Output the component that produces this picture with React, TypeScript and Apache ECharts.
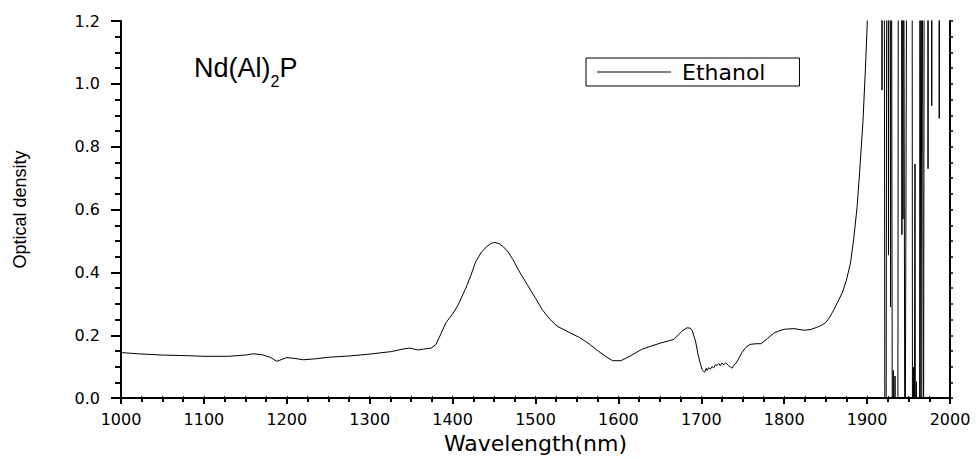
import React, { useEffect, useRef } from "react";
import * as echarts from "echarts";

// Main spectrum (wavelength in nm, optical density)
const baseWl = [
  1000, 1020, 1050, 1080, 1100, 1130, 1150, 1160, 1170, 1180, 1188, 1193, 1200, 1210, 1220, 1235, 1250, 1275,
  1300, 1326, 1340, 1348, 1352, 1358, 1365, 1374, 1380, 1386, 1392, 1400, 1406, 1416, 1422, 1428, 1435, 1441,
  1447, 1451, 1456, 1461, 1467, 1473, 1480, 1490, 1500, 1508, 1517, 1526, 1540, 1553, 1565, 1575, 1585, 1593,
  1603, 1615, 1628, 1640, 1652, 1667, 1673, 1678, 1683, 1687, 1689, 1693, 1696, 1699, 1701, 1703, 1704, 1706,
  1707, 1709, 1711, 1713, 1715, 1717, 1719, 1721, 1723, 1725, 1727, 1729, 1731, 1733, 1735, 1737, 1739, 1743,
  1749, 1754, 1759, 1766, 1772, 1780, 1788, 1795, 1800, 1812, 1824, 1832, 1840, 1845, 1850, 1855, 1860, 1865,
  1870, 1875, 1880, 1884, 1888, 1891, 1895, 1898, 1900, 1902, 1905, 1910,
];
const baseOd = [
  0.145, 0.141, 0.137, 0.135, 0.133, 0.133, 0.137, 0.141, 0.138, 0.13, 0.117, 0.122, 0.129, 0.126, 0.122, 0.125, 0.13, 0.134,
  0.14, 0.148, 0.156, 0.159, 0.157, 0.153, 0.156, 0.159, 0.171, 0.205, 0.24, 0.268, 0.293, 0.35, 0.39, 0.435, 0.465, 0.482,
  0.493, 0.495, 0.492, 0.482, 0.465, 0.44, 0.405, 0.361, 0.318, 0.282, 0.252, 0.229, 0.21, 0.193, 0.172, 0.151, 0.132, 0.119,
  0.119, 0.135, 0.155, 0.166, 0.176, 0.187, 0.203, 0.216, 0.224, 0.222, 0.215, 0.182, 0.14, 0.108, 0.09, 0.085, 0.082, 0.095,
  0.088, 0.097, 0.092, 0.1, 0.096, 0.106, 0.104, 0.11, 0.103, 0.112, 0.106, 0.112, 0.108, 0.103, 0.1, 0.095, 0.103, 0.115,
  0.145, 0.162, 0.171, 0.173, 0.173, 0.19, 0.208, 0.215, 0.219, 0.221, 0.216, 0.218, 0.226, 0.232, 0.24, 0.258, 0.282, 0.308,
  0.335, 0.375, 0.43, 0.51, 0.61, 0.72, 0.88, 1.05, 1.18, 1.35, 1.7, 2.2,
];

// Saturated, noisy region beyond the water band
const noiseWl = [
  1917.4, 1918.0, 1918.6, 1920.4, 1921.6, 1922.8, 1924.0, 1925.2, 1925.8, 1926.4, 1927.6, 1928.3, 1929.1, 1929.7,
  1930.6, 1931.6, 1932.4, 1933.7, 1934.3, 1937.0, 1937.9, 1941.5, 1942.0, 1942.5, 1943.3, 1943.8, 1945.7, 1948.5,
  1954.2, 1954.8, 1956.0, 1956.6, 1957.8, 1958.4, 1959.6, 1960.2, 1963.2, 1963.8, 1965.0, 1966.2, 1968.0, 1969.2,
  1972.9, 1973.5, 1974.1, 1977.7, 1978.0, 1978.4, 1986.5, 1987.0, 1987.5, 2000,
];
const noiseOd = [
  2.2, 0.98, 2.2, 2.2, -0.5, -0.5, 2.2, 2.2, 0.455, 2.2, 2.2, 0.29, 2.2, 2.2,
  -0.5, 0.088, -0.5, 0.07, -0.5, -0.5, 2.2, 2.2, 0.52, 2.2, 0.57, 2.2, -0.5, 2.2,
  2.2, -0.5, 0.098, -0.5, 0.745, -0.5, 0.052, -0.5, -0.5, 2.2, -0.5, 2.2, -0.5, 2.2,
  2.2, 0.73, 2.2, 2.2, 0.93, 2.2, 2.2, 0.89, 2.2, 2.2,
];

const seriesName = "Ethanol";
const xTitle = "Wavelength(nm)";
const yTitle = "Optical density";

export default function App() {
  const ref = useRef<HTMLDivElement>(null);
  useEffect(() => {
    if (!ref.current) return;
    const chart = echarts.init(ref.current, undefined, { renderer: "svg" });
    const data: [number, number][] = [];
    baseWl.forEach((w, i) => data.push([w, baseOd[i]]));
    noiseWl.forEach((w, i) => data.push([w, noiseOd[i]]));

    const font = "DejaVu Sans";
    const axisLine = { show: true, lineStyle: { color: "#000", width: 2 } };

    chart.setOption({
      animation: false,
      backgroundColor: "#fff",
      title: {
        text: "{a|Nd(Al)}{b|2}{a|P}",
        left: 189,
        top: 42,
        textStyle: {
          rich: {
            a: { fontFamily: "Liberation Sans", fontWeight: "normal", fontSize: 27, color: "#000", lineHeight: 42 },
            b: { fontFamily: "Liberation Sans", fontWeight: "normal", fontSize: 16, color: "#000", lineHeight: 42, verticalAlign: "bottom" },
          },
        },
      },
      legend: {
        left: 586,
        top: 58,
        orient: "horizontal",
        borderColor: "#000",
        borderWidth: 1,
        borderRadius: 0,
        padding: [3, 34, 3, 11],
        itemWidth: 74,
        itemHeight: 18,
        data: [{ name: seriesName, icon: "path://M0,0 L74,0 L74,0.8 L0,0.8 Z" }],
        itemStyle: { color: "#000" },
        textStyle: { fontFamily: font, fontSize: 22, lineHeight: 20, color: "#000", padding: [0, 0, 0, 6] },
      },
      grid: { left: 121, right: 26, top: 21, bottom: 58, containLabel: false },
      xAxis: [
        {
          type: "value",
          min: 1000,
          max: 2000,
          interval: 100,
          position: "bottom",
          name: xTitle,
          nameLocation: "middle",
          nameGap: 26,
          nameTextStyle: { fontFamily: font, fontSize: 22, color: "#000" },
          axisLine,
          axisTick: { show: true, inside: false, length: 6, lineStyle: { color: "#000", width: 2 } },
          minorTick: { show: true, splitNumber: 4, length: 4, lineStyle: { color: "#000", width: 2 } },
          axisLabel: { fontFamily: font, fontSize: 16, color: "#000", margin: 13, formatter: (v: number) => String(v) },
          splitLine: { show: false },
        },
        {
          type: "value",
          min: 1000,
          max: 2000,
          interval: 100,
          position: "top",
          axisLine: { show: true, lineStyle: { color: "#000", width: 1.5 } },
          axisTick: { show: true, inside: false, length: 2, lineStyle: { color: "#000", width: 1 } },
          minorTick: { show: true, splitNumber: 4, length: 2, lineStyle: { color: "#000", width: 1 } },
          axisLabel: { show: false },
          splitLine: { show: false },
        },
      ],
      yAxis: [
        {
          type: "value",
          min: 0,
          max: 1.2,
          interval: 0.2,
          position: "left",
          name: yTitle,
          nameLocation: "middle",
          nameRotate: 90,
          nameGap: 92,
          nameTextStyle: { fontFamily: "Liberation Sans", fontSize: 18, color: "#000" },
          axisLine,
          axisTick: { show: true, inside: false, length: 10, lineStyle: { color: "#000", width: 2 } },
          minorTick: { show: true, splitNumber: 4, length: 6, lineStyle: { color: "#000", width: 2 } },
          axisLabel: {
            fontFamily: font,
            fontSize: 16,
            color: "#000",
            margin: 21,
            formatter: (v: number) => v.toFixed(1),
          },
          splitLine: { show: false },
        },
        {
          type: "value",
          min: 0,
          max: 1.2,
          interval: 0.2,
          position: "right",
          axisLine,
          axisTick: { show: true, inside: false, length: 3, lineStyle: { color: "#000", width: 1.5 } },
          minorTick: { show: true, splitNumber: 4, length: 3, lineStyle: { color: "#000", width: 1.5 } },
          axisLabel: { show: false },
          splitLine: { show: false },
        },
      ],
      series: [
        {
          name: seriesName,
          type: "line",
          xAxisIndex: 0,
          yAxisIndex: 0,
          data,
          showSymbol: false,
          symbol: "none",
          clip: true,
          lineStyle: { color: "#000", width: 1 },
          itemStyle: { color: "#000" },
        },
      ],
    });
    return () => chart.dispose();
  }, []);
  return (
    <div
      ref={ref}
      style={{ position: "absolute", left: 0, top: 0, width: 976, height: 459 }}
    />
  );
}
